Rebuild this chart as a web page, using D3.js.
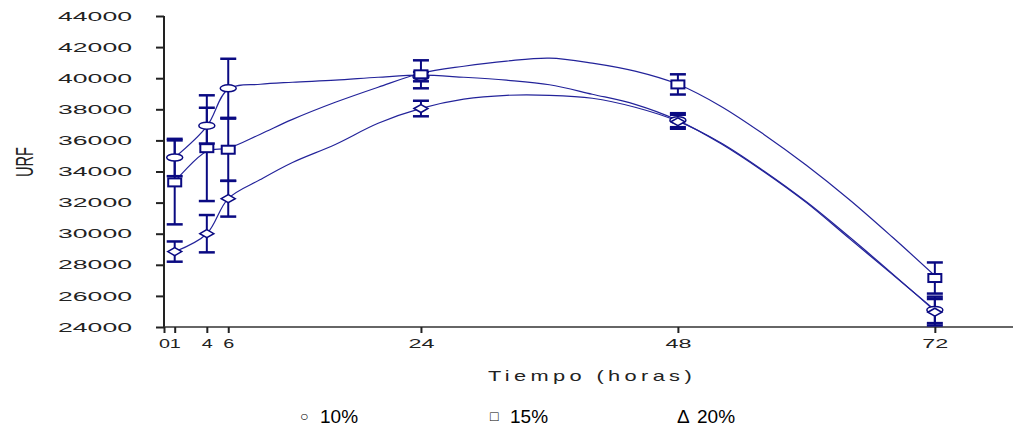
<!doctype html>
<html>
<head>
	<meta charset="UTF-8">
	<title>URF vs Tiempo</title>
	<script src="https://d3js.org/d3.v7.min.js"></script>
	<style>
		body { margin: 0; background: #fff; }
		svg { display: block; }
	</style>
</head>
<body>
	<script>

		// sampling times (hours)
		var times = [1, 4, 6, 24, 48, 72];

		// measured means and error bars for each concentration
		var mean10 = [34900, 36950, 39350, 40100, 37300, 25100];
		var err10 = [1200, 1150, 1900, 300, 450, 850];
		var mean15 = [33300, 35500, 35400, 40250, 39600, 27150];
		var err15 = [2700, 3400, 2000, 900, 650, 1000];
		var mean20 = [28850, 30000, 32250, 38050, 37200, 24950];
		var err20 = [650, 1200, 1150, 500, 450, 850];

		// fitted curves
		var fitTimes = [1, 4, 6, 9, 12, 16, 20, 24, 28, 32, 36, 40, 44, 48, 52, 56, 60, 64, 68, 72];
		var fit10 = [34900, 36900, 39300, 39610, 39740, 39870, 40060, 40200, 40060, 39870, 39580, 38970, 38320, 37290, 35800, 34000, 32000, 29700, 27400, 25100];
		var fit15 = [33350, 35300, 35500, 36400, 37350, 38450, 39420, 40320, 40770, 41100, 41290, 40970, 40450, 39610, 38200, 36400, 34400, 32200, 29800, 27300];
		var fit20 = [28840, 30000, 32260, 33480, 34580, 35740, 37100, 38060, 38650, 38900, 38900, 38710, 38130, 37230, 35850, 34050, 32050, 29800, 27450, 25030];

		// axis ticks
		var yTicks = [24000, 26000, 28000, 30000, 32000, 34000, 36000, 38000, 40000, 42000, 44000];
		var xTicks = [0, 1, 4, 6, 24, 48, 72];

		// legend
		var legendSymbols = ["\u25CB", "\u25A1", "\u0394"];
		var legendLabels = ["10%", "15%", "20%"];

		var W = 1013, H = 434;
		var navy = "#0a0a82", lineCol = "#23239a";

		var svg = d3.select("body").append("svg")
			.attr("width", W)
			.attr("height", H);

		var x = d3.scaleLinear().domain([0, 79.3]).range([164, 1013]);
		var y = d3.scaleLinear().domain([24000, 44000]).range([327, 16]);

		// y axis
		var yAxis = svg.append("g")
			.attr("transform", "translate(164,0)")
			.call(d3.axisLeft(y).tickValues(yTicks).tickSize(8).tickFormat(d3.format("d")));
		yAxis.select(".domain").attr("stroke", "#222").attr("stroke-width", 2).attr("d", "M0,16V327");
		yAxis.selectAll(".tick line").attr("stroke", "#222").attr("stroke-width", 2);
		yAxis.selectAll(".tick text")
			.attr("x", -106)
			.attr("text-anchor", "start")
			.attr("fill", "#222")
			.style("font", "13px 'Liberation Sans', Arial, sans-serif")
			.attr("textLength", 74)
			.attr("lengthAdjust", "spacingAndGlyphs");

		// x axis
		var xAxis = svg.append("g")
			.attr("transform", "translate(0,327)")
			.call(d3.axisBottom(x).tickValues(xTicks).tickSize(6).tickFormat(d3.format("d")));
		xAxis.select(".domain").attr("stroke", "#333").attr("stroke-width", 1.5).attr("d", "M164,0H1013");
		xAxis.selectAll(".tick line").attr("stroke", "#222").attr("stroke-width", 2);
		xAxis.selectAll(".tick text")
			.attr("y", 12)
			.attr("fill", "#222")
			.style("font", "13px 'Liberation Sans', Arial, sans-serif")
			.attr("textLength", function(d) { return d < 10 ? 11 : 26; })
			.attr("lengthAdjust", "spacingAndGlyphs");

		// axis titles
		svg.append("text")
			.attr("x", 592)
			.attr("y", 381)
			.attr("text-anchor", "middle")
			.attr("fill", "#222")
			.style("font", "15px 'Liberation Sans', Arial, sans-serif")
			.style("letter-spacing", "3px")
			.attr("textLength", 208)
			.attr("lengthAdjust", "spacingAndGlyphs")
			.text("Tiempo (horas)");

		svg.append("text")
			.attr("transform", "translate(33,162) rotate(-90)")
			.attr("text-anchor", "middle")
			.attr("fill", "#222")
			.style("font", "23px 'Liberation Sans', Arial, sans-serif")
			.attr("textLength", 30)
			.attr("lengthAdjust", "spacingAndGlyphs")
			.text("URF");

		// fitted lines
		var line = d3.line()
			.x(function(d) { return x(d[0]); })
			.y(function(d) { return y(d[1]); })
			.curve(d3.curveCatmullRom);

		[fit10, fit15, fit20].forEach(function(fit) {
			svg.append("path")
				.attr("d", line(fitTimes.map(function(t, i) { return [t, fit[i]]; })))
				.attr("fill", "none")
				.attr("stroke", lineCol)
				.attr("stroke-width", 1.2);
		});

		// error bars
		var series = [
			{mean: mean10, err: err10, shape: "circle"},
			{mean: mean15, err: err15, shape: "square"},
			{mean: mean20, err: err20, shape: "triangle"}
		];

		series.forEach(function(s) {
			times.forEach(function(t, i) {
				var cx = x(t), top = y(s.mean[i] + s.err[i]), bot = y(s.mean[i] - s.err[i]);
				svg.append("line")
					.attr("x1", cx).attr("x2", cx).attr("y1", top).attr("y2", bot)
					.attr("stroke", navy).attr("stroke-width", 2);
				[top, bot].forEach(function(cy) {
					svg.append("line")
						.attr("x1", cx - 8).attr("x2", cx + 8).attr("y1", cy).attr("y2", cy)
						.attr("stroke", navy).attr("stroke-width", 2.5);
				});
			});
		});

		// markers
		series.forEach(function(s) {
			times.forEach(function(t, i) {
				var cx = x(t), cy = y(s.mean[i]);
				if (s.shape == "circle") {
					svg.append("ellipse")
						.attr("cx", cx).attr("cy", cy).attr("rx", 8).attr("ry", 3.5)
						.attr("fill", "#fff").attr("stroke", navy).attr("stroke-width", 1.5);
				} else if (s.shape == "square") {
					svg.append("rect")
						.attr("x", cx - 6.5).attr("y", cy - 4).attr("width", 13).attr("height", 8)
						.attr("fill", "#fff").attr("stroke", navy).attr("stroke-width", 2);
				} else {
					svg.append("path")
						.attr("d", "M" + (cx - 7) + "," + cy + "L" + cx + "," + (cy - 4) + "L" + (cx + 7) + "," + cy + "L" + cx + "," + (cy + 4) + "Z")
						.attr("fill", "#fff").attr("stroke", navy).attr("stroke-width", 1.5);
				}
			});
		});

		// legend
		var legendX = [300, 490, 677];
		legendLabels.forEach(function(lbl, i) {
			svg.append("text")
				.attr("x", legendX[i])
				.attr("y", i < 2 ? 421 : 423)
				.attr("fill", "#000")
				.style("font", (i < 2 ? "14px" : "19px") + " Arial, 'Liberation Sans', sans-serif")
				.text(legendSymbols[i]);
			svg.append("text")
				.attr("x", legendX[i] + 20)
				.attr("y", 423)
				.attr("fill", "#000")
				.style("font", "19px Arial, 'Liberation Sans', sans-serif")
				.text(lbl);
		});
	</script>
</body>
</html>
